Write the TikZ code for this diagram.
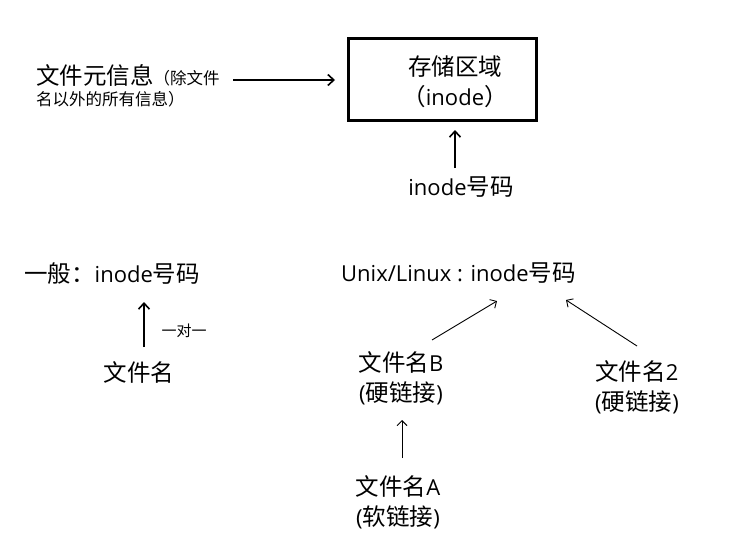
\documentclass[tikz,border=0pt]{standalone}
\usepackage{fontspec}
\setmainfont{Open Sans}
\newfontfamily\cjk{Noto Sans CJK SC}
\usetikzlibrary{arrows.meta}
\tikzset{
  lbl/.style={inner sep=0pt, font=\fontsize{22}{30}\selectfont, align=center},
  small/.style={inner sep=0pt, font=\fontsize{16.5}{19}\selectfont, align=left},
  thickarr/.style={line width=2pt, -{Straight Barb[length=6pt,width=11pt,line width=1.6pt]}},
  thinarr/.style={line width=0.9pt, -{Straight Barb[length=5pt,width=10pt,line width=0.9pt]}},
  boxs/.style={draw, line width=3pt, minimum width=188pt, minimum height=81pt}
}
\newcommand\cj[1]{{\cjk\fontsize{23.5}{30}\selectfont #1}}
\begin{document}
\begin{tikzpicture}[x=1pt,y=-1pt]
\useasboundingbox (0,0) rectangle (753,551);
% top
\node[boxs] (box) at (442,79.5) {};
\node[lbl] (store) at (455,67) {\cj{存储区域}};
\node[lbl] (storei) at (455,97) {\cj{（}inode\cj{）}};
\node[lbl] (inum) at (461,187) {inode\cj{号码}};
\coordinate (inumtop) at (455,168);
\coordinate (boxin) at (455,130);
\draw[thickarr] (inumtop) -- (boxin);
\node[lbl, anchor=west] (meta) at (36,75) {\cj{文件元信息}{\cjk\fontsize{16.5}{19}\selectfont （除文件}};
\node[small, anchor=west] (meta2) at (36,99) {\cjk 名以外的所有信息）};
\coordinate (metaend) at (233,80);
\coordinate (boxleft) at (335,80);
\draw[thickarr] (metaend) -- (boxleft);
% bottom left
\node[lbl, anchor=west] (gen) at (24,274) {\cj{一般：}inode\cj{号码}};
\node[lbl] (fn) at (139,372) {\cj{文件名}};
\coordinate (fntop) at (144,347);
\coordinate (gentop) at (144,302);
\draw[thickarr] (fntop) -- (gentop);
\node[inner sep=0pt, font=\fontsize{15}{16}\selectfont] (oto) at (184,331) {\cjk 一对一};
% bottom right
\node[lbl, anchor=west] (unix) at (341,273) {Unix/Linux : inode\cj{号码}};
\node[lbl] (fnb) at (401,378) {\cj{文件名}B\\(\cj{硬链接})};
\node[lbl] (fn2) at (637,387) {\cj{文件名}2\\(\cj{硬链接})};
\node[lbl] (fna) at (398,502) {\cj{文件名}A\\(\cj{软链接})};
\coordinate (b1) at (432,340);
\coordinate (u1) at (497,301);
\coordinate (b2) at (637,346);
\coordinate (u2) at (566,300);
\coordinate (a1) at (402,458);
\coordinate (bb) at (402,420);
\draw[thinarr] (b1) -- (u1);
\draw[thinarr] (b2) -- (u2);
\draw[thinarr] (a1) -- (bb);
\end{tikzpicture}
\end{document}
